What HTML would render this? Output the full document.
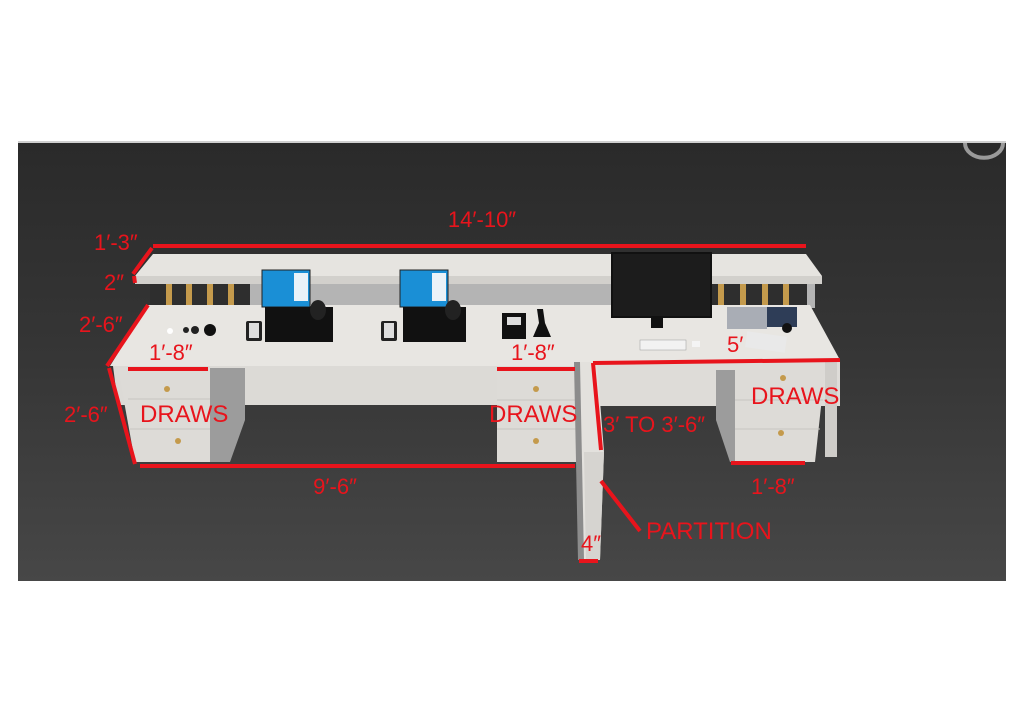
<!DOCTYPE html>
<html><head><meta charset="utf-8"><style>
html,body{margin:0;padding:0;background:#fff;}
svg{display:block}
text{font-family:"Liberation Sans",sans-serif;fill:#e8141c;}
</style></head><body>
<svg width="1024" height="724" viewBox="0 0 1024 724" xmlns="http://www.w3.org/2000/svg">
<defs>
<linearGradient id="bg" x1="0" y1="0" x2="0" y2="1">
<stop offset="0" stop-color="#2a2a2a"/><stop offset="0.5" stop-color="#363636"/><stop offset="1" stop-color="#474747"/>
</linearGradient>
</defs>
<rect width="1024" height="724" fill="#fff"/>
<rect x="18" y="141" width="988" height="440" fill="url(#bg)"/>
<rect x="18" y="141" width="988" height="2" fill="#cfcfcf"/>
<path d="M965 143 A18 14 0 0 0 1003 143" fill="none" stroke="#9a9a9a" stroke-width="4"/>

<rect x="150" y="284" width="665" height="24" fill="#b4b4b4"/>
<rect x="150" y="284" width="100" height="24" fill="#2e2e2e"/>
<rect x="712" y="284" width="95" height="24" fill="#2e2e2e"/>
<g fill="#c49a4c">
<rect x="166" y="284" width="6" height="22"/><rect x="186" y="284" width="6" height="22"/><rect x="207" y="284" width="6" height="22"/><rect x="228" y="284" width="6" height="22"/>
<rect x="718" y="284" width="6" height="22"/><rect x="740" y="284" width="6" height="22"/><rect x="762" y="284" width="6" height="22"/><rect x="783" y="284" width="6" height="22"/>
</g>
<polygon points="153,254 806,254 822,276 135,276" fill="#e6e4e0"/>
<rect x="135" y="276" width="687" height="8" fill="#d2d0cc"/>

<polygon points="148,305 810,305 840,360 596,362 596,368 110,366" fill="#e8e6e2"/>
<polygon points="113,366 580,366 580,405 118,405" fill="#dcdad6"/>
<rect x="596" y="362" width="244" height="44" fill="#dedcd8"/>

<polygon points="210,368 245,368 245,420 230,462 210,462" fill="#9c9c9c"/>
<polygon points="118,368 210,368 210,462 135,462" fill="#dddbd7"/>
<line x1="128" y1="399" x2="210" y2="399" stroke="#c6c4c0"/><line x1="130" y1="429" x2="210" y2="429" stroke="#c6c4c0"/>
<circle cx="167" cy="389" r="3" fill="#c49a4c"/><circle cx="178" cy="441" r="3" fill="#c49a4c"/>
<rect x="497" y="368" width="80" height="94" fill="#dddbd7"/>
<line x1="497" y1="400" x2="577" y2="400" stroke="#c6c4c0"/><line x1="497" y1="429" x2="577" y2="429" stroke="#c6c4c0"/>
<circle cx="536" cy="389" r="3" fill="#c49a4c"/><circle cx="536" cy="441" r="3" fill="#c49a4c"/>
<polygon points="716,370 735,370 735,462 730,462 716,420" fill="#9c9c9c"/>
<polygon points="735,370 825,370 815,462 735,462" fill="#dddbd7"/>
<line x1="735" y1="400" x2="823" y2="400" stroke="#c6c4c0"/><line x1="735" y1="429" x2="820" y2="429" stroke="#c6c4c0"/>
<circle cx="783" cy="378" r="3" fill="#c49a4c"/><circle cx="781" cy="433" r="3" fill="#c49a4c"/>
<rect x="825" y="362" width="12" height="95" fill="#cfcdc9"/>

<polygon points="574,362 584,362 587,560 578,560" fill="#8c8c8c"/>
<polygon points="580,362 597,362 604,452 600,560 584,560" fill="#e3e1dd"/>
<polygon points="584,452 604,452 600,560 586,560" fill="#d6d4d0"/>

<rect x="611" y="252" width="101" height="66" fill="#111"/>
<rect x="613" y="254" width="97" height="62" fill="#1c1c1c"/>
<rect x="651" y="318" width="12" height="10" fill="#111"/>
<rect x="640" y="340" width="46" height="10" fill="#f2f2f2" stroke="#999" stroke-width="0.5"/>
<rect x="692" y="341" width="8" height="6" fill="#f4f4f4"/>
<rect x="727" y="307" width="40" height="22" fill="#a9adb5"/>
<rect x="767" y="307" width="30" height="20" fill="#2e3d57"/>
<rect x="746" y="334" width="40" height="16" fill="#e9e9e9" transform="rotate(8 766 342)"/>
<circle cx="787" cy="328" r="5" fill="#111"/>

<rect x="262" y="270" width="48" height="37" fill="#1a8fd6" stroke="#222" stroke-width="1"/>
<rect x="294" y="273" width="14" height="28" fill="#eaf2f8"/>
<rect x="265" y="307" width="68" height="35" fill="#111"/>
<ellipse cx="318" cy="310" rx="8" ry="10" fill="#222"/>
<rect x="246" y="321" width="16" height="20" rx="2" fill="#222"/><rect x="249" y="323" width="10" height="15" fill="#ddd"/>
<rect x="400" y="270" width="48" height="37" fill="#1a8fd6" stroke="#222" stroke-width="1"/>
<rect x="432" y="273" width="14" height="28" fill="#eaf2f8"/>
<rect x="403" y="307" width="63" height="35" fill="#111"/>
<ellipse cx="453" cy="310" rx="8" ry="10" fill="#222"/>
<rect x="381" y="321" width="16" height="20" rx="2" fill="#222"/><rect x="384" y="323" width="10" height="15" fill="#ddd"/>
<rect x="502" y="313" width="24" height="26" fill="#111"/><rect x="507" y="317" width="14" height="8" fill="#ddd"/>
<path d="M537 309 l6 0 l2 14 l6 14 l-18 0 l6 -14 z" fill="#111"/>
<circle cx="210" cy="330" r="6" fill="#111"/><circle cx="195" cy="330" r="4" fill="#222"/><circle cx="186" cy="330" r="3" fill="#222"/>
<circle cx="170" cy="331" r="3" fill="#fff"/>

<g stroke="#e8141c" stroke-width="4" fill="none">
<line x1="153" y1="246" x2="806" y2="246"/>
<line x1="152" y1="248" x2="133" y2="274"/>
<line x1="134" y1="276" x2="135" y2="283"/>
<line x1="148" y1="305" x2="107" y2="366"/>
<line x1="109" y1="368" x2="135" y2="464"/>
<line x1="128" y1="369" x2="208" y2="369"/>
<line x1="140" y1="466" x2="575" y2="466"/>
<line x1="497" y1="369" x2="575" y2="369"/>
<line x1="593" y1="363" x2="601" y2="450"/>
<line x1="593" y1="363" x2="840" y2="360"/>
<line x1="731" y1="463" x2="805" y2="463"/>
<line x1="601" y1="481" x2="640" y2="531"/>
<line x1="579" y1="561" x2="598" y2="561"/>
</g>

<text x="482" y="227" font-size="22" text-anchor="middle">14′-10″</text>
<text x="94" y="250" font-size="22">1′-3″</text>
<text x="104" y="290" font-size="22">2″</text>
<text x="79" y="332" font-size="22">2′-6″</text>
<text x="149" y="360" font-size="22">1′-8″</text>
<text x="64" y="422" font-size="22">2′-6″</text>
<text x="140" y="422" font-size="24">DRAWS</text>
<text x="489" y="422" font-size="24">DRAWS</text>
<text x="511" y="360" font-size="22">1′-8″</text>
<text x="335" y="494" font-size="22" text-anchor="middle">9′-6″</text>
<text x="603" y="432" font-size="22">3′ TO 3′-6″</text>
<text x="751" y="404" font-size="24">DRAWS</text>
<text x="727" y="352" font-size="22">5′</text>
<text x="751" y="494" font-size="22">1′-8″</text>
<text x="646" y="539" font-size="24">PARTITION</text>
<text x="581" y="551" font-size="22">4″</text>
</svg>
</body></html>
